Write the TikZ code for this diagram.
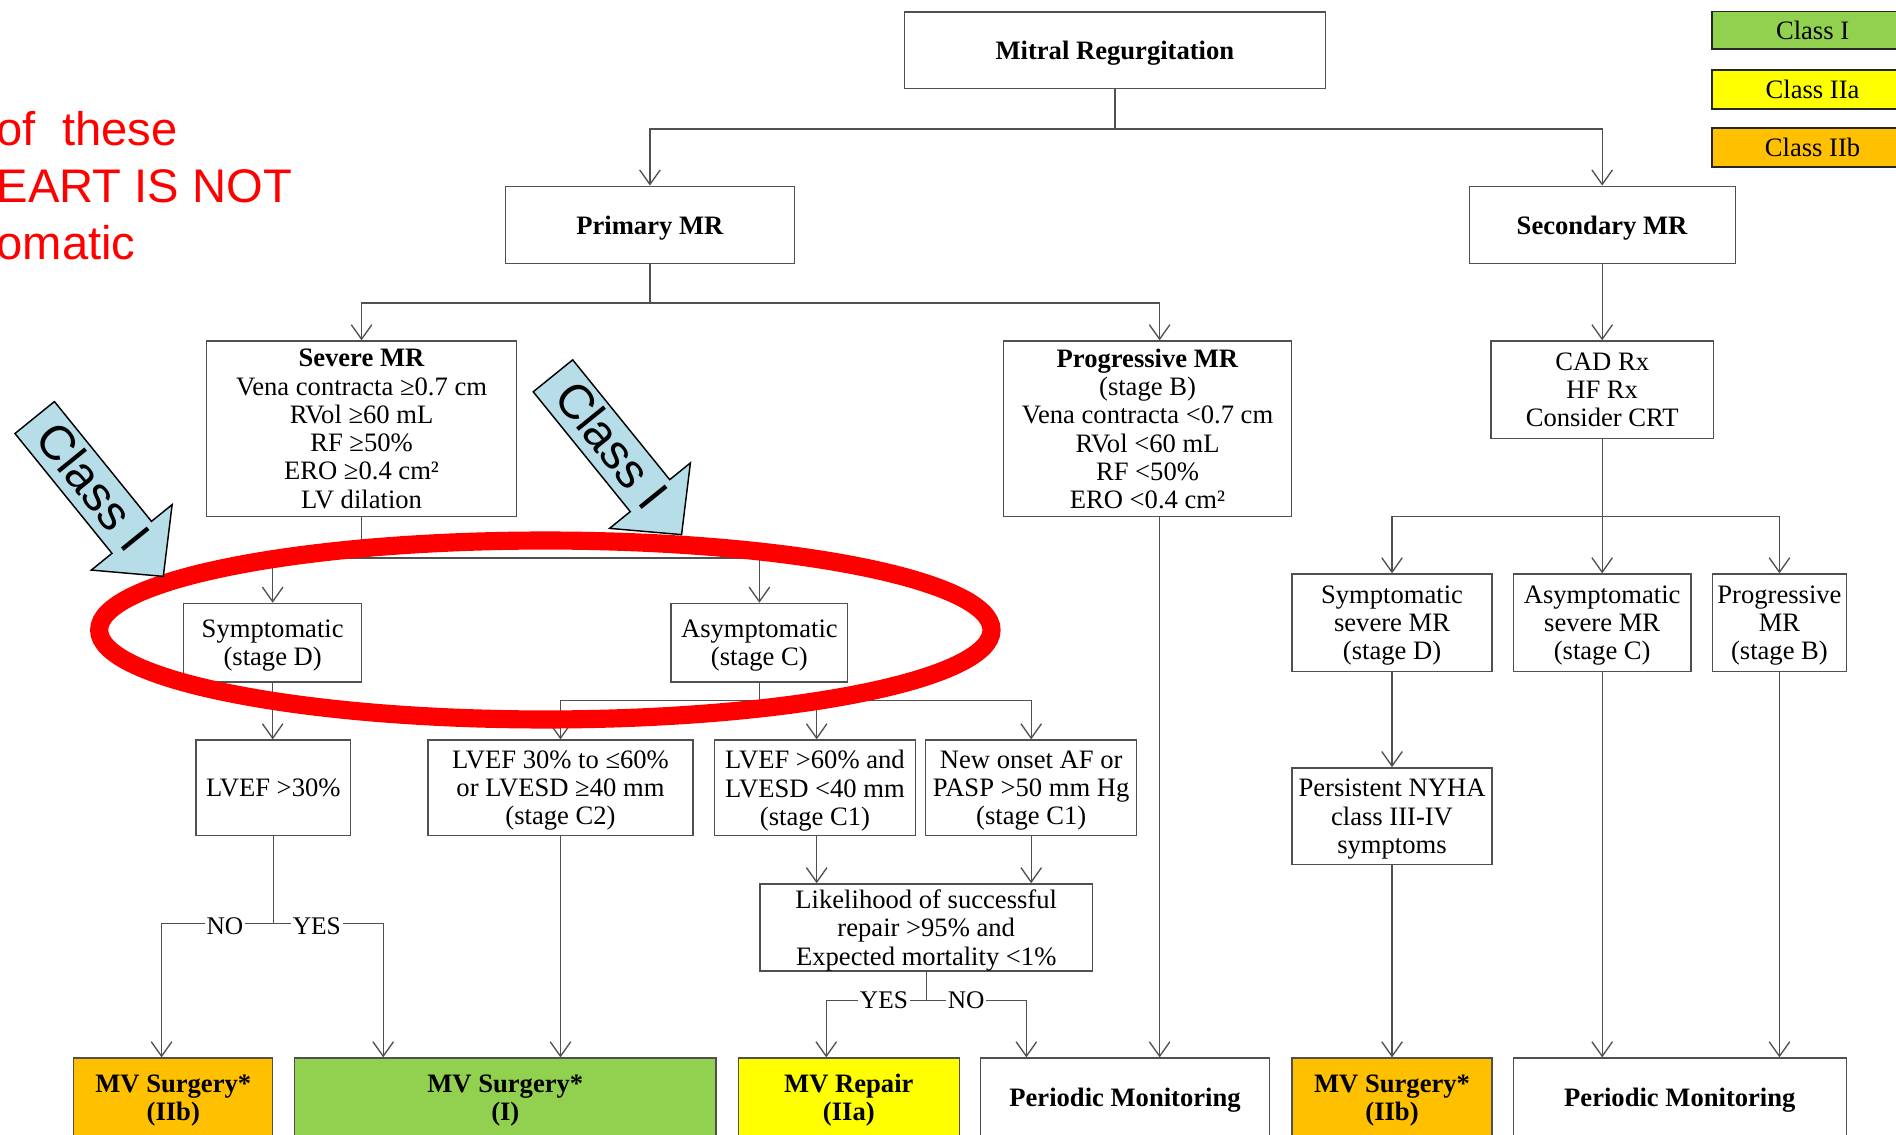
\documentclass[tikz,border=0pt]{standalone}
\usepackage{fontspec}
\setmainfont{Liberation Serif}
\newfontfamily\arialfont{Liberation Sans}
\usetikzlibrary{arrows.meta,calc}
\definecolor{lineg}{RGB}{80,80,80}
\definecolor{cIgreen}{RGB}{146,208,80}
\definecolor{cIIayel}{RGB}{255,255,0}
\definecolor{cIIborg}{RGB}{255,192,0}
\definecolor{arrowblue}{RGB}{183,222,232}
\begin{document}
\begin{tikzpicture}[x=1pt,y=-1pt,
  box/.style={draw=lineg, line width=1.1pt, align=center, inner sep=0pt, text depth=0pt, font=\fontsize{22}{23.4}\selectfont},
  ln/.style={draw=lineg, line width=1.1pt},
  arr/.style={ln, -{Straight Barb[length=12pt,width=17pt]}},
  lbl/.style={fill=white, inner sep=1.5pt, text depth=0pt, font=\fontsize{21}{22}\selectfont},
  legendbox/.style={draw=black!85, line width=1.4pt, minimum width=166, inner sep=0pt, text depth=0pt, font=\fontsize{22}{24}\selectfont},
  redtxt/.style={text=red, anchor=base west, inner sep=0pt, font=\arialfont\fontsize{39}{47}\selectfont},
  classtxt/.style={inner sep=0pt, font=\arialfont\fontsize{40}{48}\selectfont, rotate=-51},
  blockarrow/.style={draw=black, line width=1.2pt, fill=arrowblue, line join=miter}
]
\clip (0,0) rectangle (1568,938);
\fill[white] (0,0) rectangle (1568,938);

% legend
\node[legendbox, fill=cIgreen, minimum height=31] (lg1) at (1499,25) {Class I};
\node[legendbox, fill=cIIayel, minimum height=32] (lg2) at (1499,74) {Class IIa};
\node[legendbox, fill=cIIborg, minimum height=32] (lg3) at (1499,122) {Class IIb};

% red annotation text
\node[redtxt] (rt1) at (-3,120) {of\ \ these};
\node[redtxt] (rt2) at (-3,167.6) {EART IS NOT};
\node[redtxt] (rt3) at (-3,215) {omatic};

% boxes
\node[box, minimum width=348, minimum height=63] (mitral) at (922,41.5) {\textbf{Mitral Regurgitation}};
\node[box, minimum width=239, minimum height=64] (primary) at (537.5,186) {\textbf{Primary MR}};
\node[box, minimum width=220, minimum height=64] (secondary) at (1325,186) {\textbf{Secondary MR}};
\node[box, minimum width=256, minimum height=145] (severe) at (299,354.5)
  {\textbf{Severe MR}\\Vena contracta ≥0.7 cm\\RVol ≥60 mL\\RF ≥50\%\\ERO ≥0.4 cm²\\LV dilation};
\node[box, minimum width=238, minimum height=145] (progressive) at (949,354.5)
  {\textbf{Progressive MR}\\(stage B)\\Vena contracta <0.7 cm\\RVol <60 mL\\RF <50\%\\ERO <0.4 cm²};
\node[box, minimum width=184, minimum height=80.6] (cad) at (1325,322.3) {CAD Rx\\HF Rx\\Consider CRT};
\node[box, minimum width=147, minimum height=65] (sympD) at (225.5,531.5) {Symptomatic\\(stage D)};
\node[box, minimum width=146, minimum height=65] (asymC) at (628,531.5) {Asymptomatic\\(stage C)};
\node[box, minimum width=165.3, minimum height=80.4] (sevD) at (1151.2,514.9) {Symptomatic\\severe MR\\(stage D)};
\node[box, minimum width=147, minimum height=80.4] (sevC) at (1325,514.9) {Asymptomatic\\severe MR\\(stage C)};
\node[box, minimum width=110.4, minimum height=80.4] (progB) at (1471.6,514.9) {Progressive\\MR\\(stage B)};
\node[box, minimum width=128, minimum height=79] (lvef30) at (226,651.5) {LVEF >30\%};
\node[box, minimum width=219, minimum height=79] (c2) at (463.5,651.5) {LVEF 30\% to ≤60\%\\or LVESD ≥40 mm\\(stage C2)};
\node[box, minimum width=166, minimum height=79] (c1a) at (674,651.5) {LVEF >60\% and\\LVESD <40 mm\\(stage C1)};
\node[box, minimum width=174.5, minimum height=79] (c1b) at (852.8,651.5) {New onset AF or\\PASP >50 mm Hg\\(stage C1)};
\node[box, minimum width=165.3, minimum height=80] (nyha) at (1151.2,675) {Persistent NYHA\\class III-IV\\symptoms};
\node[box, minimum width=275, minimum height=72] (likely) at (766,767) {Likelihood of successful\\repair >95\% and\\Expected mortality <1\%};

% outcome boxes
\node[box, fill=cIIborg, minimum width=164.6, minimum height=65] (mvs1) at (143.3,907.5) {\textbf{MV Surgery*}\\\textbf{(IIb)}};
\node[box, fill=cIgreen, minimum width=348.3, minimum height=65] (mvsI) at (417.9,907.5) {\textbf{MV Surgery*}\\\textbf{(I)}};
\node[box, fill=cIIayel, minimum width=183, minimum height=65] (mvr) at (702,907.5) {\textbf{MV Repair}\\\textbf{(IIa)}};
\node[box, minimum width=238.8, minimum height=65] (pm1) at (930.4,907.5) {\textbf{Periodic Monitoring}};
\node[box, fill=cIIborg, minimum width=165.3, minimum height=65] (mvs2) at (1151.2,907.5) {\textbf{MV Surgery*}\\\textbf{(IIb)}};
\node[box, minimum width=275.3, minimum height=65] (pm2) at (1389.2,907.5) {\textbf{Periodic Monitoring}};

% connectors
\draw[ln] (mitral.south) -- ++(0,33) coordinate (mj);
\draw[arr] (mj) -| (primary.north);
\draw[arr] (mj) -| (secondary.north);

\draw[ln] (primary.south) -- ++(0,32) coordinate (pj);
\draw[arr] (pj) -| (severe.north);
\draw[arr] (pj) -| ([xshift=10pt]progressive.north);

\draw[ln] (severe.south) -- ++(0,34) coordinate (sj);
\draw[arr] (sj) -| (sympD.north);
\draw[arr] (sj) -| (asymC.north);

\draw[arr] (sympD.south) -- (sympD.south |- lvef30.north);
\draw[ln] (lvef30.south) -- ++(0,72) coordinate (lj);
\draw[arr] (lj) -| ([xshift=-9.7pt]mvs1.north);
\draw[arr] (lj) -| ([xshift=-101pt]mvsI.north);
\node[lbl] (no1) at (186,766) {NO};
\node[lbl] (yes1) at (262,766) {YES};

\draw[ln] (asymC.south) -- ++(0,15) coordinate (aj);
\draw[arr] (aj) -| (c2.north);
\draw[arr] (aj) -| ([xshift=1.4pt]c1a.north);
\draw[arr] (aj) -| (c1b.north);

\draw[arr] (c2.south) -- (c2.south |- mvsI.north);
\draw[arr] ([xshift=1.4pt]c1a.south) -- ([xshift=1.4pt]c1a.south |- likely.north);
\draw[arr] (c1b.south) -- (c1b.south |- likely.north);

\draw[ln] (likely.south) -- ++(0,24) coordinate (kj);
\draw[arr] (kj) -| ([xshift=-18.7pt]mvr.north);
\draw[arr] (kj) -| ([xshift=-81.6pt]pm1.north);
\node[lbl] (yes2) at (731,827) {YES};
\node[lbl] (no2) at (799,827) {NO};

\draw[arr] ([xshift=10pt]progressive.south) -- ([xshift=10pt]progressive.south |- pm1.north);

\draw[arr] (secondary.south) -- (cad.north);
\draw[ln] (cad.south) -- ++(0,64) coordinate (cj);
\draw[arr] (cj) -| (sevD.north);
\draw[arr] (cj) -- (sevC.north);
\draw[arr] (cj) -| (progB.north);
\draw[arr] (sevD.south) -- (nyha.north);
\draw[arr] (nyha.south) -- (mvs2.north);
\draw[arr] (sevC.south) -- (sevC.south |- pm2.north);
\draw[arr] (progB.south) -- (progB.south |- pm2.north);

% red ellipse
\draw[red, line width=15pt] (451,521) ellipse [x radius=369, y radius=74];

% Class I block arrows
\begin{scope}[shift={(28.7,345.3)}, rotate=-51]
  \draw[blockarrow] (0,-21) -- (127.5,-21) -- (127.5,-43) -- (169,0) -- (127.5,43) -- (127.5,21) -- (0,21) -- cycle;
\end{scope}
\node[classtxt] (cl1) at (77.5,402.3) {Class I};
\begin{scope}[shift={(457.3,310.8)}, rotate=-51]
  \draw[blockarrow] (0,-21) -- (127.5,-21) -- (127.5,-43) -- (169,0) -- (127.5,43) -- (127.5,21) -- (0,21) -- cycle;
\end{scope}
\node[classtxt] (cl2) at (506.1,367.8) {Class I};
\end{tikzpicture}
\end{document}
